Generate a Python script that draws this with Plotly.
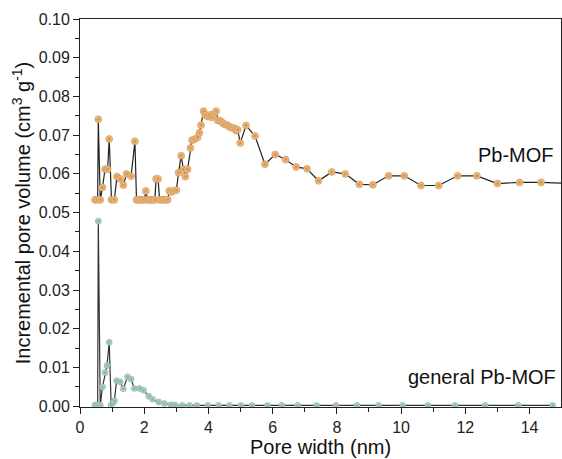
import plotly.graph_objects as go

# Pb-MOF (offset series)
pb_x = [0.47, 0.55, 0.57, 0.63, 0.70, 0.78, 0.86, 0.91, 0.98, 1.07,
        1.15, 1.25, 1.35, 1.45, 1.59, 1.71, 1.76, 1.82, 1.88, 1.94,
        2.00, 2.05, 2.10, 2.16, 2.22, 2.28, 2.33, 2.37, 2.43, 2.48,
        2.55, 2.62, 2.68, 2.73, 2.78, 2.84, 2.90, 3.00, 3.07, 3.15,
        3.22, 3.28, 3.35, 3.44, 3.49, 3.56, 3.66, 3.72, 3.77, 3.85,
        3.90, 3.98, 4.03, 4.10, 4.17, 4.24, 4.29, 4.37, 4.44, 4.50,
        4.58, 4.65, 4.72, 4.81, 4.86, 4.91, 4.99, 5.17, 5.45, 5.76,
        6.08, 6.40, 6.73, 7.07, 7.43, 7.84, 8.26, 8.70, 9.12, 9.61,
        10.10, 10.62, 11.17, 11.76, 12.36, 13.00, 13.69, 14.36, 15.10]
pb_y = [0.0533, 0.0533, 0.0741, 0.0533, 0.0565, 0.0612, 0.0612, 0.0690, 0.0533, 0.0533,
        0.0593, 0.0587, 0.0571, 0.0600, 0.0594, 0.0684, 0.0533, 0.0533, 0.0533, 0.0533,
        0.0533, 0.0556, 0.0533, 0.0533, 0.0533, 0.0533, 0.0533, 0.0587, 0.0587, 0.0533,
        0.0533, 0.0533, 0.0533, 0.0533, 0.0556, 0.0553, 0.0556, 0.0558, 0.0603, 0.0647,
        0.0612, 0.0593, 0.0612, 0.0667, 0.0687, 0.0689, 0.0694, 0.0706, 0.0726, 0.0762,
        0.0752, 0.0748, 0.0752, 0.0746, 0.0755, 0.0762, 0.0738, 0.0737, 0.0732, 0.0728,
        0.0726, 0.0722, 0.0719, 0.0718, 0.0712, 0.0714, 0.0680, 0.0725, 0.0698, 0.0625,
        0.0650, 0.0637, 0.0618, 0.0613, 0.0582, 0.0605, 0.0600, 0.0573, 0.0572, 0.0595,
        0.0595, 0.0570, 0.0570, 0.0595, 0.0595, 0.0575, 0.0578, 0.0578, 0.0576]

# general Pb-MOF
gen_x = [0.47, 0.55, 0.57, 0.63, 0.70, 0.78, 0.84, 0.91, 0.97, 1.04,
         1.07, 1.14, 1.25, 1.35, 1.48, 1.59, 1.69, 1.85, 1.98, 2.14,
         2.26, 2.45, 2.63, 2.83, 2.96, 3.18, 3.41, 3.64, 3.98, 4.32,
         4.65, 5.01, 5.36, 5.84, 6.29, 6.78, 7.37, 7.97, 8.63, 9.30,
         10.05, 10.83, 11.68, 12.62, 13.65, 14.72]
gen_y = [0.0003, 0.0003, 0.0478, 0.0003, 0.0050, 0.0087, 0.0105, 0.0165, 0.0003, 0.0011,
         0.0014, 0.0066, 0.0063, 0.0045, 0.0076, 0.0070, 0.0046, 0.0046, 0.0041, 0.0026,
         0.0018, 0.0011, 0.0007, 0.0004, 0.0003, 0.0002, 0.0002, 0.0002, 0.0002, 0.0002,
         0.0002, 0.0002, 0.0002, 0.0002, 0.0002, 0.0002, 0.0002, 0.0002, 0.0002, 0.0002,
         0.0002, 0.0002, 0.0002, 0.0002, 0.0002, 0.0002]

font = "Liberation Sans, Arial, sans-serif"

fig = go.Figure()
fig.add_trace(go.Scatter(
    x=gen_x, y=gen_y, mode="lines+markers", cliponaxis=True,
    line=dict(color="#333333", width=1.2),
    marker=dict(size=6, color="#c8e2d4",
                gradient=dict(type="radial", color="#7aab94"),
                line=dict(color="#6d9c86", width=0.5)),
    showlegend=False))
fig.add_trace(go.Scatter(
    x=pb_x, y=pb_y, mode="lines+markers", cliponaxis=True,
    line=dict(color="#222222", width=1.2),
    marker=dict(size=7, color="#f6cc98",
                gradient=dict(type="radial", color="#d08a44"),
                line=dict(color="#c27c38", width=0.5)),
    showlegend=False))

fig.add_annotation(x=14.82, y=0.0650, xref="x", yref="y", text="Pb-MOF",
                   showarrow=False, xanchor="right", yanchor="middle",
                   font=dict(family=font, size=20, color="#111111"))
fig.add_annotation(x=14.88, y=0.0075, xref="x", yref="y", text="general Pb-MOF",
                   showarrow=False, xanchor="right", yanchor="middle",
                   font=dict(family=font, size=20, color="#111111"))

fig.update_xaxes(
    range=[0, 14.98], tickmode="linear", tick0=0, dtick=2,
    ticks="outside", ticklen=6, tickwidth=1, tickcolor="#222",
    minor=dict(dtick=1, ticks="outside", ticklen=4, tickwidth=1, tickcolor="#222"),
    showline=True, linecolor="#222", linewidth=1, mirror=True,
    showgrid=False, zeroline=False,
    tickfont=dict(family=font, size=16, color="#222"),
    title=dict(text="Pore width (nm)", font=dict(family=font, size=20, color="#111"), standoff=2))
fig.update_yaxes(
    range=[-0.0002, 0.1], tickmode="linear", tick0=0, dtick=0.01, tickformat=".2f",
    ticks="outside", ticklen=6, tickwidth=1, tickcolor="#222",
    minor=dict(dtick=0.005, ticks="outside", ticklen=4, tickwidth=1, tickcolor="#222"),
    showline=True, linecolor="#222", linewidth=1, mirror=True,
    showgrid=False, zeroline=False,
    tickfont=dict(family=font, size=16, color="#222"),
    title=dict(text="Incremental pore volume (cm<sup>3</sup> g<sup>-1</sup>)",
               font=dict(family=font, size=20, color="#111"), standoff=2))

fig.update_layout(
    width=562, height=459,
    margin=dict(l=80, r=1, t=19, b=52),
    paper_bgcolor="white", plot_bgcolor="white",
)
fig.write_html("out.html")
